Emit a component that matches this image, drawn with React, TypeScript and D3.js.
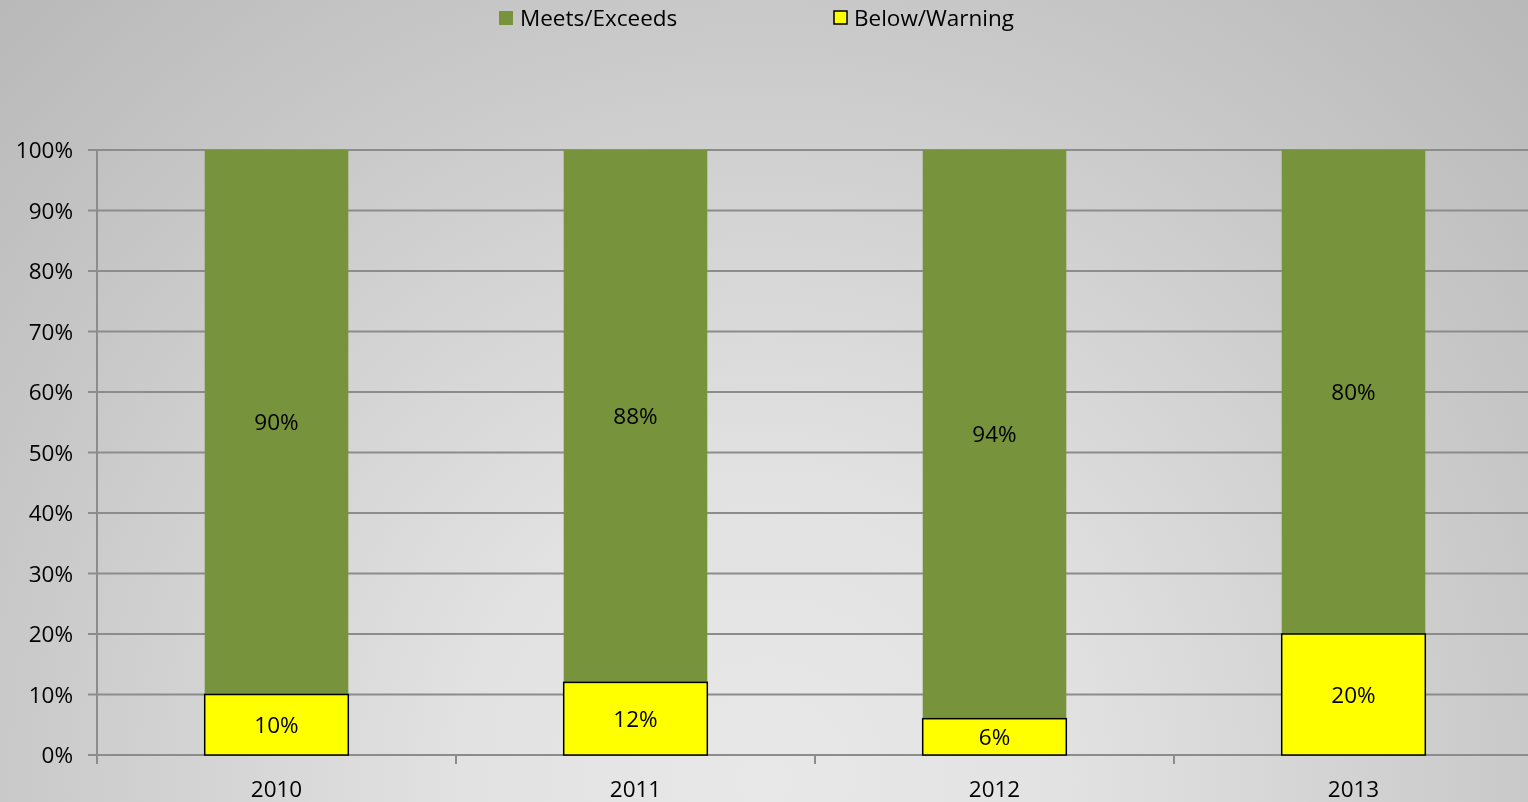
import React from "react";
import * as d3 from "d3";

const years = ["2010", "2011", "2012", "2013"];
const meets = [90, 88, 94, 80];
const below = [10, 12, 6, 20];
const yTicks = [0, 10, 20, 30, 40, 50, 60, 70, 80, 90, 100];

const W = 1528;
const H = 802;
const FONT = "'Open Sans', 'Noto Sans', sans-serif";
const FS = 22.5;

export default function App() {
  const x = d3.scaleBand<string>().domain(years).range([97, 1533]).padding(0);
  const y = d3.scaleLinear().domain([0, 100]).range([755, 150]);
  const barW = x.bandwidth() * 0.4;
  const fmt = (v: number) => `${v}%`;

  return (
    <div style={{ position: "fixed", left: 0, top: 0 }}>
      <svg width={W} height={H} style={{ display: "block" }}>
        <defs>
          <radialGradient id="bg" gradientUnits="userSpaceOnUse" cx={764} cy={780} r={1100} fx={764} fy={780}>
            <stop offset="0" stopColor="#e8e8e8" />
            <stop offset="0.27" stopColor="#e2e2e2" />
            <stop offset="0.71" stopColor="#c8c8c8" />
            <stop offset="1" stopColor="#b8b8b8" />
          </radialGradient>
        </defs>
        <rect x={0} y={0} width={W} height={H} fill="url(#bg)" />

        {yTicks.map((t) => (
          <g key={t}>
            <line x1={88} x2={W} y1={y(t)} y2={y(t)} stroke="#8c8c8c" strokeWidth={2} />
            <text
              x={73}
              y={y(t)}
              dy="0.36em"
              textAnchor="end"
              fontFamily={FONT}
              fontSize={FS}
              fill="#000"
            >
              {fmt(t)}
            </text>
          </g>
        ))}
        <line x1={97} x2={97} y1={150} y2={755} stroke="#8c8c8c" strokeWidth={2} />
        {years.map((yr) => (
          <line
            key={"t" + yr}
            x1={x(yr)!}
            x2={x(yr)!}
            y1={755}
            y2={764}
            stroke="#8c8c8c"
            strokeWidth={2}
          />
        ))}

        {years.map((yr, i) => {
          const cx = x(yr)! + x.bandwidth() / 2;
          const x0 = cx - barW / 2;
          const yb = y(below[i]);
          const ym = y(below[i] + meets[i]);
          return (
            <g key={yr}>
              <rect x={x0} y={ym} width={barW} height={yb - ym} fill="#77933c" />
              <rect
                x={x0}
                y={yb}
                width={barW}
                height={y(0) - yb}
                fill="#ffff00"
                stroke="#000"
                strokeWidth={1.5}
              />
              <text x={cx} y={(ym + yb) / 2} dy="0.36em" textAnchor="middle" fontFamily={FONT} fontSize={FS}>
                {fmt(meets[i])}
              </text>
              <text x={cx} y={(yb + y(0)) / 2} dy="0.36em" textAnchor="middle" fontFamily={FONT} fontSize={FS}>
                {fmt(below[i])}
              </text>
              <text x={cx} y={789} dy="0.36em" textAnchor="middle" fontFamily={FONT} fontSize={FS}>
                {yr}
              </text>
            </g>
          );
        })}

        <rect x={499} y={11} width={14} height={14} fill="#77933c" />
        <text x={520} y={18} dy="0.36em" fontFamily={FONT} fontSize={FS}>
          Meets/Exceeds
        </text>
        <rect x={834} y={11} width={13} height={13} fill="#ffff00" stroke="#000" strokeWidth={1.5} />
        <text x={854} y={18} dy="0.36em" fontFamily={FONT} fontSize={FS}>
          Below/Warning
        </text>
      </svg>
    </div>
  );
}
